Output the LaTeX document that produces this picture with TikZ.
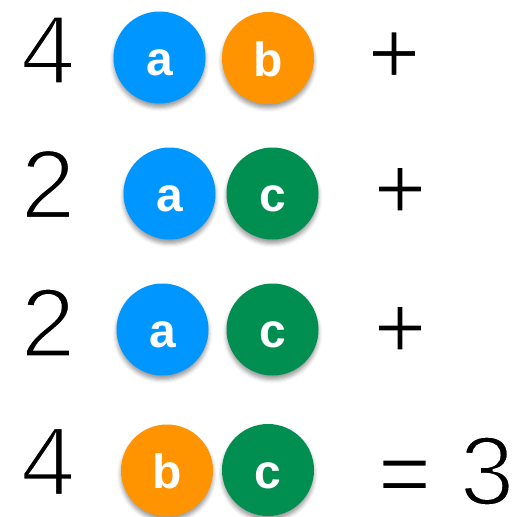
\documentclass[tikz,border=0pt]{standalone}
\usepackage{fontspec}
\setmainfont{Liberation Sans}
\usetikzlibrary{shadows.blur}
\definecolor{cblue}{HTML}{0096FF}
\definecolor{corange}{HTML}{FF9300}
\definecolor{cgreen}{HTML}{008F51}
\newcommand{\thintext}[2]{\special{pdf:literal direct 2 Tr 1 1 1 RG #1 w}#2}
\tikzset{
  ball/.style={circle, minimum size=92pt, inner sep=0pt, text=white,
    text height=36pt, text depth=0pt,
    font=\fontsize{48}{48}\selectfont\bfseries,
    blur shadow={shadow xshift=0pt, shadow yshift=-4pt, shadow blur radius=4pt, shadow opacity=40}},
  ballA/.style={ball, fill=cblue},
  ballB/.style={ball, fill=corange},
  ballC/.style={ball, fill=cgreen},
  num/.style={inner sep=0pt, font=\fontsize{98}{98}\selectfont},
  op/.style={inner sep=0pt, font=\fontsize{90}{90}\selectfont}
}
\begin{document}
\begin{tikzpicture}[x=1pt,y=-1pt]
\useasboundingbox (0,0) rectangle (531,517);
% row 1
\node[num] (n1) at (48,50) {\thintext{2.6}{4}};
\node[ballA] (a1) at (159.5,57.5) {a};
\node[ballB] (b1) at (268,58) {b};
\node[op] (p1) at (394,57.5) {\thintext{1.6}{+}};
% row 2
\node[num] (n2) at (48,184) {\thintext{2.6}{2}};
\node[ballA] (a2) at (169.5,193.5) {a};
\node[ballC] (c2) at (272.5,193.5) {c};
\node[op] (p2) at (400,193) {\thintext{1.6}{+}};
% row 3
\node[num] (n3) at (48,322.5) {\thintext{2.6}{2}};
\node[ballA] (a3) at (162.5,329.5) {a};
\node[ballC] (c3) at (272.5,329.5) {c};
\node[op] (p3) at (400,332) {\thintext{1.6}{+}};
% row 4
\node[num] (n4) at (48,461.5) {\thintext{2.6}{4}};
\node[ballB] (b4) at (167,470.5) {b};
\node[ballC] (c4) at (268,470) {c};
\node[op] (eq) at (404.5,482) {\thintext{1.6}{=}};
\node[num] (r) at (487,471) {\thintext{2.6}{3}};
\end{tikzpicture}
\end{document}
